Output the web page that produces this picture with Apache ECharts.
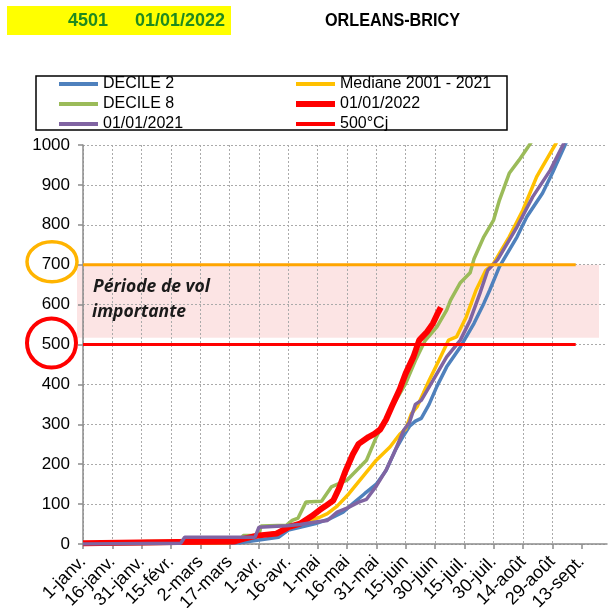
<!DOCTYPE html>
<html>
<head>
<meta charset="utf-8">
<script src="https://cdn.jsdelivr.net/npm/echarts@6/dist/echarts.min.js"></script>
<style>
  html, body { margin: 0; padding: 0; background: #fff; }
  #chart { width: 616px; height: 608px; }
</style>
</head>
<body>
<div id="chart"></div>
<script>
// x axis: days since 1 January, one label every 15 days
const tickLabels = ["1-janv.", "16-janv.", "31-janv.", "15-févr.", "2-mars", "17-mars", "1-avr.", "16-avr.",
  "1-mai", "16-mai", "31-mai", "15-juin", "30-juin", "15-juil.", "30-juil.", "14-août", "29-août", "13-sept."];
const yTicks = [0, 100, 200, 300, 400, 500, 600, 700, 800, 900, 1000];

// cumulated degree-days
const decile2Days = [0, 80, 90, 100, 105, 111, 119, 126, 133, 138, 144, 150, 155, 160, 164, 167, 170, 173, 177, 181, 186, 193, 200, 205, 208, 213, 222, 227, 235, 240, 247, 252];
const decile2Vals = [0, 3, 10, 17, 35, 42, 51, 63, 80, 101, 126, 150, 184, 238, 272, 295, 308, 315, 350, 395, 444, 494, 553, 603, 636, 695, 770, 820, 879, 929, 1005, 1060];

const medianeDays = [0, 75, 80, 92, 100, 107, 114, 121, 125, 130, 136, 143, 150, 157, 162, 165, 168, 171, 174, 177, 182, 187, 191, 196, 201, 206, 210, 218, 225, 232, 235, 242, 246];
const medianeVals = [0, 3, 15, 22, 30, 43, 55, 67, 76, 95, 126, 168, 210, 243, 275, 288, 327, 345, 377, 410, 460, 511, 519, 569, 636, 686, 703, 770, 837, 920, 946, 1005, 1050];

const decile8Days = [0, 33, 80, 82, 90, 91, 104, 107, 110, 114, 122, 127, 135, 145, 150, 158, 165, 170, 175, 181, 186, 188, 193, 198, 200, 205, 210, 213, 218, 223, 229, 232];
const decile8Vals = [0, 6, 7, 21, 22, 45, 47, 59, 65, 105, 107, 143, 160, 210, 268, 343, 402, 460, 510, 544, 586, 611, 655, 680, 715, 770, 812, 862, 929, 962, 1005, 1040];

const an2022Days = [0, 48, 77, 82, 89, 99, 105, 111, 117, 121, 124, 128, 131, 134, 138, 141, 146, 149, 152, 155, 158, 162, 165, 169, 172, 176, 179, 181, 183];
const an2022Vals = [2, 5, 6, 13, 21, 26, 42, 51, 70, 85, 95, 109, 140, 180, 225, 251, 268, 276, 287, 312, 345, 388, 427, 469, 511, 532, 553, 574, 593];

const an2021Days = [0, 50, 52, 88, 90, 104, 111, 119, 125, 130, 135, 141, 145, 150, 155, 160, 164, 167, 170, 173, 179, 186, 193, 198, 203, 207, 212, 222, 230, 239, 246, 250];
const an2021Vals = [0, 2, 17, 17, 42, 46, 49, 55, 59, 80, 90, 105, 112, 145, 185, 238, 285, 305, 350, 360, 410, 469, 511, 561, 628, 686, 712, 795, 870, 937, 1005, 1050];

const seuilDays = [0, 252];
const seuil500 = [500, 500];
const seuil700 = [700, 700];

const pair = (days, vals) => days.map((d, i) => [d, vals[i]]);

const chart = echarts.init(document.getElementById("chart"));

const FONT = '"Liberation Sans", Arial, sans-serif';

function lineSeries(name, days, vals, color, width) {
  return {
    name: name,
    type: "line",
    data: pair(days, vals),
    symbol: "none",
    color: color,
    lineStyle: { color: color, width: width },
  };
}

const legendBase = {
  orient: "vertical",
  top: 71,
  itemWidth: 39,
  itemHeight: 14,
  itemGap: 4,
  itemStyle: { opacity: 0 },
  textStyle: { fontFamily: FONT, fontSize: 16, color: "#000", lineHeight: 15 },
  selectedMode: false,
};

chart.setOption({
  animation: false,
  grid: { left: 83, right: 9, top: 145, bottom: 64, containLabel: false, outerBoundsMode: "none" },
  legend: [
    Object.assign({}, legendBase, {
      left: 52,
      data: [
        { name: "DECILE 2", lineStyle: { width: 4 } },
        { name: "DECILE 8", lineStyle: { width: 4 } },
        { name: "01/01/2021", lineStyle: { width: 4 } },
      ],
    }),
    Object.assign({}, legendBase, {
      left: 288,
      data: [
        { name: "Mediane 2001 - 2021", lineStyle: { width: 4 } },
        { name: "01/01/2022", lineStyle: { width: 6 } },
        { name: "500°Cj", lineStyle: { width: 4 } },
      ],
    }),
  ],
  xAxis: {
    type: "value",
    min: 0,
    max: 268,
    interval: 15,
    axisLine: { lineStyle: { color: "#8c8c8c", width: 1.5 } },
    axisTick: {
      show: true,
      length: 5,
      lineStyle: { color: "#8c8c8c", width: 1.5 },
      customValues: tickLabels.map((_, i) => i * 15),
    },
    axisLabel: {
      rotate: 45,
      margin: 15,
      fontFamily: FONT,
      fontSize: 18,
      color: "#000",
      customValues: tickLabels.map((_, i) => i * 15),
      formatter: (v) => tickLabels[Math.round(v / 15)] || "",
    },
    splitLine: {
      show: true,
      showMaxLine: false,
      lineStyle: { color: "#aaaaaa", type: [2, 2], width: 1 },
    },
  },
  yAxis: {
    type: "value",
    min: 0,
    max: 1000,
    interval: 100,
    axisLine: { show: true, lineStyle: { color: "#8c8c8c", width: 1.5 } },
    axisTick: { show: true, length: 5, lineStyle: { color: "#8c8c8c", width: 1.5 } },
    axisLabel: {
      margin: 13,
      fontFamily: FONT,
      fontSize: 17,
      color: "#000",
      customValues: yTicks,
      formatter: (v) => String(v),
    },
    splitLine: { show: true, lineStyle: { color: "#aaaaaa", type: [2, 2], width: 1 } },
  },
  series: [
    lineSeries("DECILE 2", decile2Days, decile2Vals, "#4f81bd", 3.5),
    lineSeries("Mediane 2001 - 2021", medianeDays, medianeVals, "#ffc000", 3.5),
    lineSeries("DECILE 8", decile8Days, decile8Vals, "#9bbb59", 3.5),
    lineSeries("01/01/2022", an2022Days, an2022Vals, "#ff0000", 6),
    lineSeries("01/01/2021", an2021Days, an2021Vals, "#8064a2", 3.5),
    lineSeries("500°Cj", seuilDays, seuil500, "#ff0000", 3),
    lineSeries("700°Cj", seuilDays, seuil700, "#ffa500", 3),
  ],
});

// decorations placed from the axis scale
const y700 = chart.convertToPixel({ yAxisIndex: 0 }, 700);
const y500 = chart.convertToPixel({ yAxisIndex: 0 }, 500);
const y517 = chart.convertToPixel({ yAxisIndex: 0 }, 517);
const BAND_FONT = 'italic bold 17.5px "Open Sans", Lato, sans-serif';

chart.setOption({
  graphic: [
    // header
    { type: "rect", shape: { x: 7, y: 6, width: 224, height: 29 }, style: { fill: "#ffff00" }, silent: true },
    { type: "text", style: { text: "4501", x: 68, y: 21, font: "bold 18px " + FONT, fill: "#1f8a1f", verticalAlign: "middle" } },
    { type: "text", style: { text: "01/01/2022", x: 135, y: 21, font: "bold 18px " + FONT, fill: "#1f8a1f", verticalAlign: "middle" } },
    { type: "text", x: 325, y: 21, scaleX: 0.9, style: { text: "ORLEANS-BRICY", x: 0, y: 0, font: "bold 18px " + FONT, fill: "#000", verticalAlign: "middle" } },
    // legend frame
    { type: "rect", shape: { x: 36, y: 76, width: 471, height: 54 }, style: { fill: "none", stroke: "#000", lineWidth: 1.5 }, silent: true },
    // flight period band
    { type: "rect", z: -1, shape: { x: 77, y: y700, width: 522, height: y517 - y700 }, style: { fill: "rgba(248,190,190,0.42)" }, silent: true },
    { type: "text", style: { text: "Période de vol", x: 93, y: y700 + 22, font: BAND_FONT, fill: "#1a1a1a", verticalAlign: "middle" } },
    { type: "text", style: { text: "importante", x: 92, y: y700 + 47, font: BAND_FONT, fill: "#1a1a1a", verticalAlign: "middle" } },
    // circles round the 700 and 500 labels
    { type: "ellipse", shape: { cx: 52, cy: y700 - 3, rx: 25, ry: 20 }, style: { fill: "none", stroke: "#ffb400", lineWidth: 3.5 }, silent: true },
    { type: "circle", shape: { cx: 51.5, cy: y500 - 1.5, r: 24.5 }, style: { fill: "none", stroke: "#ff0000", lineWidth: 4 }, silent: true },
  ],
});
</script>
</body>
</html>
